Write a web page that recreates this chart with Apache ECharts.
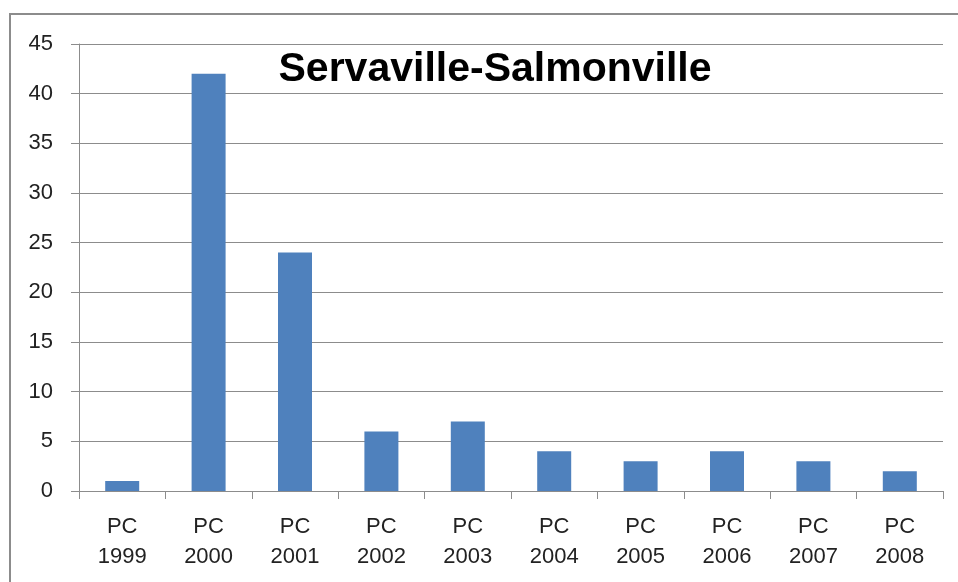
<!DOCTYPE html>
<html>
<head>
<meta charset="utf-8">
<script src="https://cdn.jsdelivr.net/npm/echarts@6/dist/echarts.min.js"></script>
<style>
  html, body { margin: 0; padding: 0; background: #fff; }
  #main { width: 958px; height: 582px; }
</style>
</head>
<body>
<div id="main"></div>
<script>
// data
const categories = ["PC\n1999", "PC\n2000", "PC\n2001", "PC\n2002", "PC\n2003",
                    "PC\n2004", "PC\n2005", "PC\n2006", "PC\n2007", "PC\n2008"];
const values = [1, 42, 24, 6, 7, 4, 3, 4, 3, 2];
const yTicks = { min: 0, max: 45, interval: 5 };

let myChart = echarts.init(document.getElementById("main"));
let option = {
  animation: false,
  title: {
    text: "Servaville-Salmonville",
    left: 490,
    top: 44,
    textAlign: "center",
    textStyle: {
      fontFamily: "Liberation Sans",
      fontWeight: "bold",
      fontSize: 41,
      color: "#000"
    }
  },
  // outer chart frame, right and bottom edges are cut off
  graphic: [
    {
      type: "rect",
      shape: { x: 10, y: 14, width: 1000, height: 700 },
      style: { fill: "none", stroke: "#8c8c8c", lineWidth: 2 },
      z: -1
    }
  ],
  grid: {
    left: 79,
    right: 15,
    top: 44,
    bottom: 91
  },
  xAxis: {
    type: "category",
    data: categories,
    axisLine: { lineStyle: { color: "#8c8c8c", width: 1 } },
    axisTick: { show: true, length: 8, lineStyle: { color: "#8c8c8c" } },
    axisLabel: {
      margin: 21,
      fontFamily: "Liberation Sans",
      fontSize: 22,
      lineHeight: 30,
      color: "#222"
    }
  },
  yAxis: {
    type: "value",
    min: yTicks.min,
    max: yTicks.max,
    interval: yTicks.interval,
    axisLine: { show: true, lineStyle: { color: "#8c8c8c", width: 1 } },
    axisTick: { show: true, length: 8, lineStyle: { color: "#8c8c8c" } },
    splitLine: { lineStyle: { color: "#8c8c8c", width: 1 } },
    axisLabel: {
      margin: 26,
      fontFamily: "Liberation Sans",
      fontSize: 22,
      color: "#222"
    }
  },
  series: [
    {
      type: "bar",
      data: values,
      barWidth: 34,
      itemStyle: { color: "#4F81BD" }
    }
  ]
};
myChart.setOption(option);
</script>
</body>
</html>
